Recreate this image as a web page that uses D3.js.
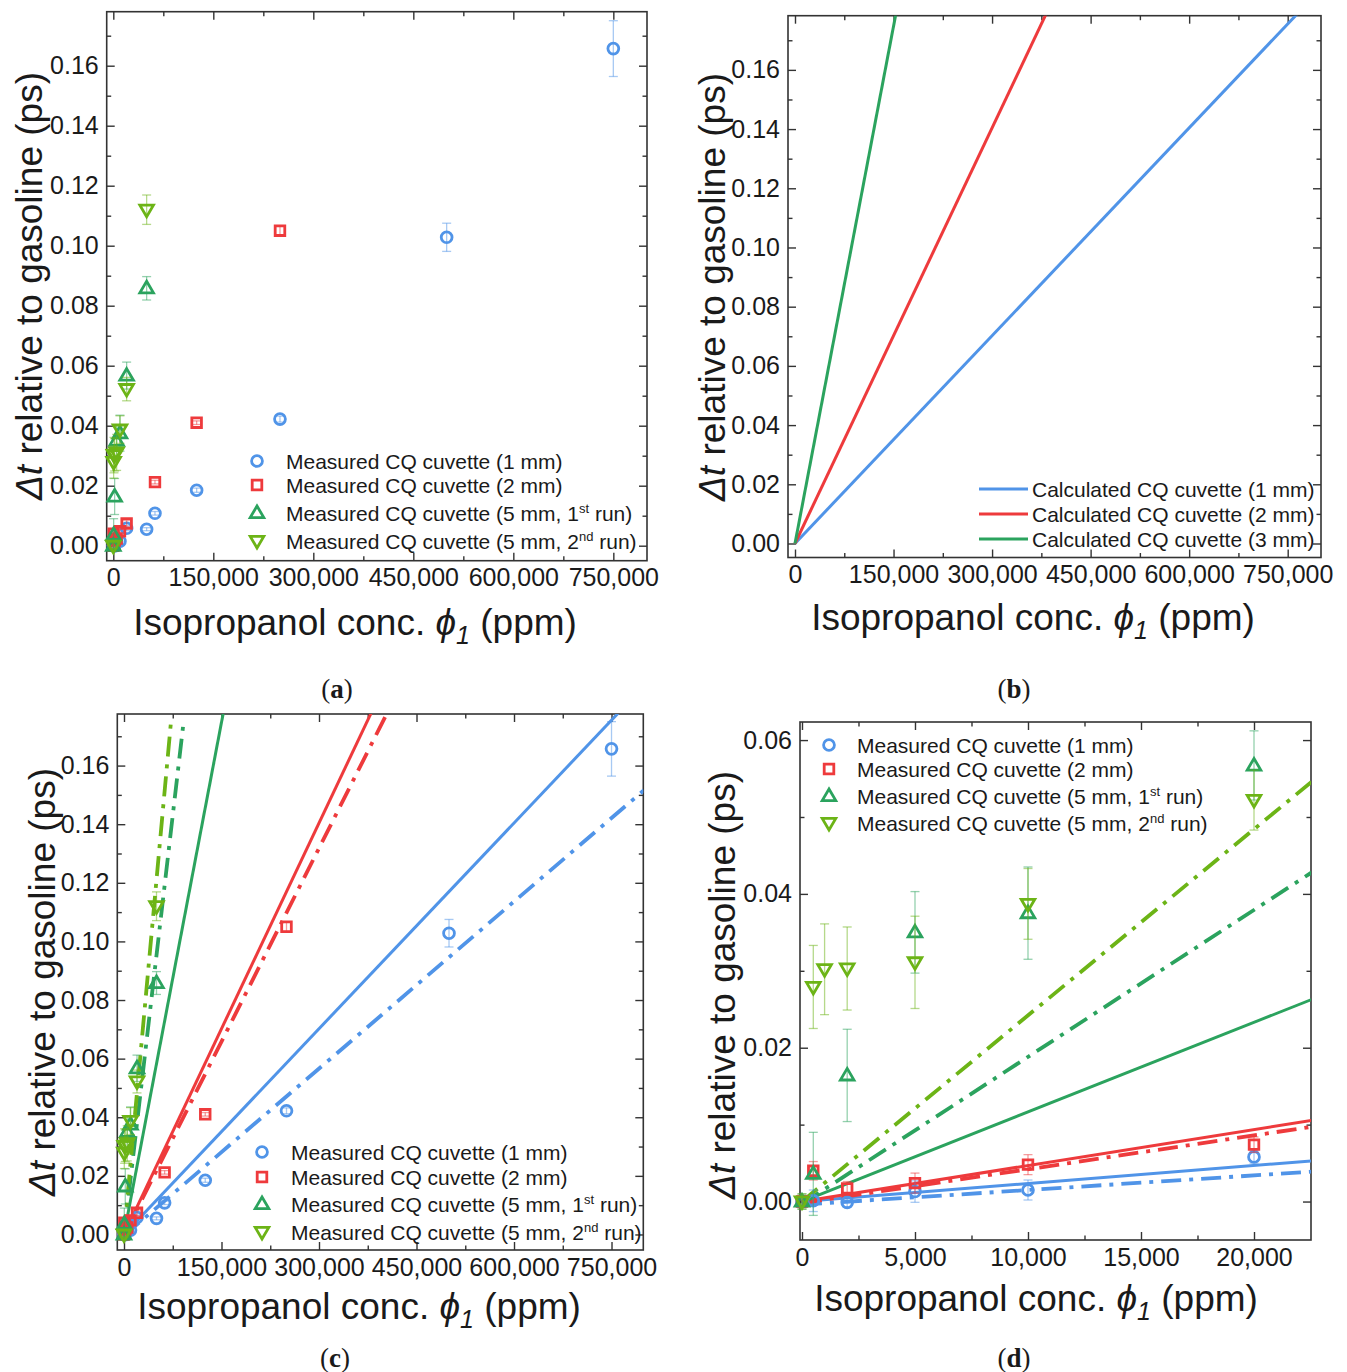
<!DOCTYPE html>
<html>
<head>
<meta charset="utf-8">
<script src="https://cdn.jsdelivr.net/npm/d3@7"></script>
<style>
  body { margin: 0; background: #fff; }
  svg { display: block; }
  text { font-family: "Liberation Sans", Arial, sans-serif; fill: #1a1a1a; }
</style>
</head>
<body>
<svg id="chart" width="1347" height="1372"></svg>
<script>
// ---- tick values ----
const xTicksWide = [0, 150000, 300000, 450000, 600000, 750000];
const xMinorWide = [75000, 225000, 375000, 525000, 675000];
const yTicksWide = [0, 0.02, 0.04, 0.06, 0.08, 0.10, 0.12, 0.14, 0.16];
const yMinorWide = [0.01, 0.03, 0.05, 0.07, 0.09, 0.11, 0.13, 0.15, 0.17];
const xTicksZoom = [0, 5000, 10000, 15000, 20000];
const xMinorZoom = [2500, 7500, 12500, 17500];
const yTicksZoom = [0, 0.02, 0.04, 0.06];
const yMinorZoom = [0.01, 0.03, 0.05];

// ---- measured data (ppm, ps, +/- ps) ----
const blueX = [0, 500, 2000, 5000, 10000, 20000, 50000, 62500, 125000, 250000, 500000, 750000];
const blueY = [0, 0.0001, -0.0001, 0.0013, 0.0015, 0.0058, 0.0055, 0.0108, 0.0185, 0.0422, 0.1028, 0.1657];
const blueErr = [0.0008, 0.0014, 0.0006, 0.0014, 0.0013, 0.0008, 0.0005, 0.0006, 0.0007, 0.001, 0.0047, 0.0093];

const redX = [0, 500, 2000, 5000, 10000, 20000, 62500, 125000, 250000];
const redY = [0, 0.004, 0.0017, 0.0024, 0.0048, 0.0074, 0.0212, 0.041, 0.105];
const redErr = [0.0008, 0.0012, 0.0009, 0.0013, 0.0013, 0.001, 0.0006, 0.0006, 0.0016];

const greenX = [0, 500, 2000, 5000, 10000, 20000, 50000];
const greenY = [0, 0.0036, 0.0164, 0.035, 0.0375, 0.0567, 0.0858];
const greenErr = [0.001, 0.0054, 0.006, 0.0053, 0.006, 0.0045, 0.0039];

const limeX = [0, 500, 1000, 2000, 5000, 10000, 20000, 50000];
const limeY = [0, 0.0279, 0.0302, 0.0303, 0.0311, 0.0387, 0.0522, 0.112];
const limeErr = [0.001, 0.0054, 0.0059, 0.0054, 0.006, 0.0046, 0.0039, 0.0049];

// ---- calculated lines (solid) ----
const calcX = [0, 800000];
const calc1mmY = [0, 0.1872];
const calc2mmY = [0, 0.3744];
const calc3mmY = [0, 0.932];

// ---- linear fits (dash-dot) ----
const fit1mmX = [0, 800000], fit1mmY = [-0.0004, 0.1516];
const fit2mmX = [0, 410000], fit2mmY = [-0.0002, 0.1802];
const fitRun1X = [0, 90800], fitRun1Y = [-0.0003, 0.1732];
const fitRun2X = [0, 72300], fitRun2Y = [0, 0.175];

const colors = { blue: '#5094e8', red: '#ee3a3c', green: '#2ba35e', lime: '#6cb416' };

const measured = [
  { x: blueX, y: blueY, err: blueErr, color: colors.blue, shape: 'circle', label: ['Measured CQ cuvette (1 mm)'] },
  { x: redX, y: redY, err: redErr, color: colors.red, shape: 'square', label: ['Measured CQ cuvette (2 mm)'] },
  { x: greenX, y: greenY, err: greenErr, color: colors.green, shape: 'up', label: ['Measured CQ cuvette (5 mm, 1', 'st', ' run)'] },
  { x: limeX, y: limeY, err: limeErr, color: colors.lime, shape: 'down', label: ['Measured CQ cuvette (5 mm, 2', 'nd', ' run)'] }
];
const calculated = [
  { x: calcX, y: calc1mmY, color: colors.blue, label: 'Calculated CQ cuvette (1 mm)' },
  { x: calcX, y: calc2mmY, color: colors.red, label: 'Calculated CQ cuvette (2 mm)' },
  { x: calcX, y: calc3mmY, color: colors.green, label: 'Calculated CQ cuvette (3 mm)' }
];
const fits = [
  { x: fit1mmX, y: fit1mmY, color: colors.blue },
  { x: fit2mmX, y: fit2mmY, color: colors.red },
  { x: fitRun1X, y: fitRun1Y, color: colors.green },
  { x: fitRun2X, y: fitRun2Y, color: colors.lime }
];

const panels = [
  { id: 'a', box: [106.7, 11.7, 647, 560.7], xDom: [-9900, 800500], yDom: [-0.005, 0.178],
    xt: xTicksWide, xm: xMinorWide, yt: yTicksWide, ym: yMinorWide,
    points: true, calc: false, fit: false,
    legend: { type: 'marker', sx: 257, tx: 286, rows: [461, 485, 513, 541] },
    xTitle: [355, 622], yTitle: [29, 286], tag: [337, 688] },
  { id: 'b', box: [788, 15.7, 1321, 557.5], xDom: [-10650, 800700], yDom: [-0.00473, 0.1783],
    xt: xTicksWide, xm: xMinorWide, yt: yTicksWide, ym: yMinorWide,
    points: false, calc: true, fit: false,
    legend: { type: 'line', lx: [979, 1028], tx: 1032, rows: [489, 514, 539] },
    xTitle: [1033, 617], yTitle: [712, 287], tag: [1014, 688] },
  { id: 'c', box: [117.3, 714, 643.3, 1250], xDom: [-10300, 798900], yDom: [-0.0053, 0.1776],
    xt: xTicksWide, xm: xMinorWide, yt: yTicksWide, ym: yMinorWide,
    points: true, calc: true, fit: true,
    legend: { type: 'marker', sx: 262, tx: 291, rows: [1152, 1177, 1204, 1232] },
    xTitle: [359, 1306], yTitle: [42, 982], tag: [335, 1357] },
  { id: 'd', box: [800, 722, 1311, 1240], xDom: [-88, 22522], yDom: [-0.005, 0.06235],
    xt: xTicksZoom, xm: xMinorZoom, yt: yTicksZoom, ym: yMinorZoom,
    points: true, calc: true, fit: true,
    legend: { type: 'marker', sx: 829, tx: 857, rows: [745, 769, 796, 823] },
    xTitle: [1036, 1298], yTitle: [722, 985], tag: [1014, 1357] }
];

const svg = d3.select('#chart');
const defs = svg.append('defs');

function symbolPath(shape) {
  if (shape === 'circle') return d3.symbol().type(d3.symbolCircle).size(92)();
  if (shape === 'square') return 'M-4.8,-4.8H4.8V4.8H-4.8Z';
  if (shape === 'up') return 'M0,-7L6.8,4.6L-6.8,4.6Z';
  return 'M0,7L6.8,-4.6L-6.8,-4.6Z';
}

function drawPanel(p) {
  const [x0, y0, x1, y1] = p.box;
  const x = d3.scaleLinear().domain(p.xDom).range([x0, x1]);
  const y = d3.scaleLinear().domain(p.yDom).range([y1, y0]);
  const g = svg.append('g').attr('class', 'panel-' + p.id);

  defs.append('clipPath').attr('id', 'clip-' + p.id)
    .append('rect').attr('x', x0).attr('y', y0).attr('width', x1 - x0).attr('height', y1 - y0);

  // axes with inward ticks on all four sides
  const axes = [
    { ax: d3.axisBottom(x), t: `translate(0,${y1})`, major: p.xt, minor: p.xm, fmt: d3.format(','), labels: true },
    { ax: d3.axisTop(x), t: `translate(0,${y0})`, major: p.xt, minor: p.xm, labels: false },
    { ax: d3.axisLeft(y), t: `translate(${x0},0)`, major: p.yt, minor: p.ym, fmt: d3.format('.2f'), labels: true },
    { ax: d3.axisRight(y), t: `translate(${x1},0)`, major: p.yt, minor: p.ym, labels: false }
  ];
  axes.forEach(a => {
    const major = g.append('g').attr('transform', a.t)
      .call(a.ax.tickValues(a.major).tickSizeInner(-8).tickSizeOuter(0).tickPadding(8)
        .tickFormat(a.labels ? a.fmt : () => ''));
    major.select('.domain').remove();
    major.selectAll('line').attr('stroke', '#333').attr('stroke-width', 1.4);
    major.selectAll('text').style('font-size', '25px').attr('fill', '#1a1a1a')
      .style('font-family', '"Liberation Sans", Arial, sans-serif');
    const minor = g.append('g').attr('transform', a.t)
      .call(a.ax.tickValues(a.minor).tickSizeInner(-4.5).tickSizeOuter(0).tickFormat(() => ''));
    minor.select('.domain').remove();
    minor.selectAll('line').attr('stroke', '#333').attr('stroke-width', 1.4);
  });

  g.append('rect').attr('x', x0).attr('y', y0).attr('width', x1 - x0).attr('height', y1 - y0)
    .attr('fill', 'none').attr('stroke', '#333').attr('stroke-width', 1.6);

  const line = d3.line().x(d => x(d[0])).y(d => y(d[1]));
  const plot = g.append('g').attr('clip-path', `url(#clip-${p.id})`);

  if (p.calc) {
    calculated.forEach(s => {
      plot.append('path').attr('d', line(d3.zip(s.x, s.y)))
        .attr('fill', 'none').attr('stroke', s.color).attr('stroke-width', 3);
    });
  }
  if (p.fit) {
    fits.forEach(s => {
      plot.append('path').attr('d', line(d3.zip(s.x, s.y)))
        .attr('fill', 'none').attr('stroke', s.color).attr('stroke-width', 3.8)
        .attr('stroke-dasharray', '20,8,4,8');
    });
  }
  if (p.points) {
    const cap = 4.5;
    measured.forEach(s => {
      const pts = s.x.map((v, i) => ({ x: v, y: s.y[i], e: s.err[i] }))
        .filter(d => d.x <= p.xDom[1]);
      const eb = g.append('g').attr('stroke', s.color).attr('stroke-opacity', 0.5).attr('stroke-width', 1.3);
      pts.forEach(d => {
        const cx = x(d.x), ya = y(d.y + d.e), yb = y(d.y - d.e);
        eb.append('line').attr('x1', cx).attr('x2', cx).attr('y1', ya).attr('y2', yb);
        eb.append('line').attr('x1', cx - cap).attr('x2', cx + cap).attr('y1', ya).attr('y2', ya);
        eb.append('line').attr('x1', cx - cap).attr('x2', cx + cap).attr('y1', yb).attr('y2', yb);
      });
      g.append('g').selectAll('path').data(pts).join('path')
        .attr('d', symbolPath(s.shape))
        .attr('transform', d => `translate(${x(d.x)},${y(d.y)})`)
        .attr('fill', 'none').attr('stroke', s.color).attr('stroke-width', 2.8);
    });
  }

  // legend
  const lg = g.append('g');
  if (p.legend.type === 'marker') {
    measured.forEach((s, i) => {
      const ry = p.legend.rows[i];
      lg.append('path').attr('d', symbolPath(s.shape))
        .attr('transform', `translate(${p.legend.sx},${ry})`)
        .attr('fill', 'none').attr('stroke', s.color).attr('stroke-width', 2.8);
      const t = lg.append('text').attr('x', p.legend.tx).attr('y', ry).attr('dy', '0.36em')
        .style('font-size', '21px');
      t.append('tspan').text(s.label[0]);
      if (s.label.length > 1) {
        t.append('tspan').attr('dy', -8).style('font-size', '13px').text(s.label[1]);
        t.append('tspan').attr('dy', 8).text(s.label[2]);
      }
    });
  } else {
    calculated.forEach((s, i) => {
      const ry = p.legend.rows[i];
      lg.append('line').attr('x1', p.legend.lx[0]).attr('x2', p.legend.lx[1])
        .attr('y1', ry).attr('y2', ry).attr('stroke', s.color).attr('stroke-width', 3);
      lg.append('text').attr('x', p.legend.tx).attr('y', ry).attr('dy', '0.36em')
        .style('font-size', '21px').text(s.label);
    });
  }

  // axis titles
  const xt = g.append('text').attr('x', p.xTitle[0]).attr('y', p.xTitle[1]).attr('dy', '0.36em')
    .attr('text-anchor', 'middle').style('font-size', '37px');
  xt.append('tspan').text('Isopropanol conc. ');
  xt.append('tspan').style('font-style', 'italic').text('ϕ');
  xt.append('tspan').style('font-style', 'italic').style('font-size', '25px').attr('dy', 9).text('1');
  xt.append('tspan').attr('dy', -9).text(' (ppm)');

  const yt = g.append('text')
    .attr('transform', `translate(${p.yTitle[0]},${p.yTitle[1]}) rotate(-90)`)
    .attr('dy', '0.36em').attr('text-anchor', 'middle').style('font-size', '37px');
  yt.append('tspan').style('font-style', 'italic').text('Δt');
  yt.append('tspan').text(' relative to gasoline (ps)');

  // panel tag
  const tag = g.append('text').attr('x', p.tag[0]).attr('y', p.tag[1]).attr('dy', '0.36em')
    .attr('text-anchor', 'middle').style('font-size', '27px')
    .style('font-family', '"Liberation Serif", "Times New Roman", serif');
  tag.append('tspan').text('(');
  tag.append('tspan').style('font-weight', 'bold').text(p.id);
  tag.append('tspan').text(')');
}

panels.forEach(drawPanel);
</script>
</body>
</html>
